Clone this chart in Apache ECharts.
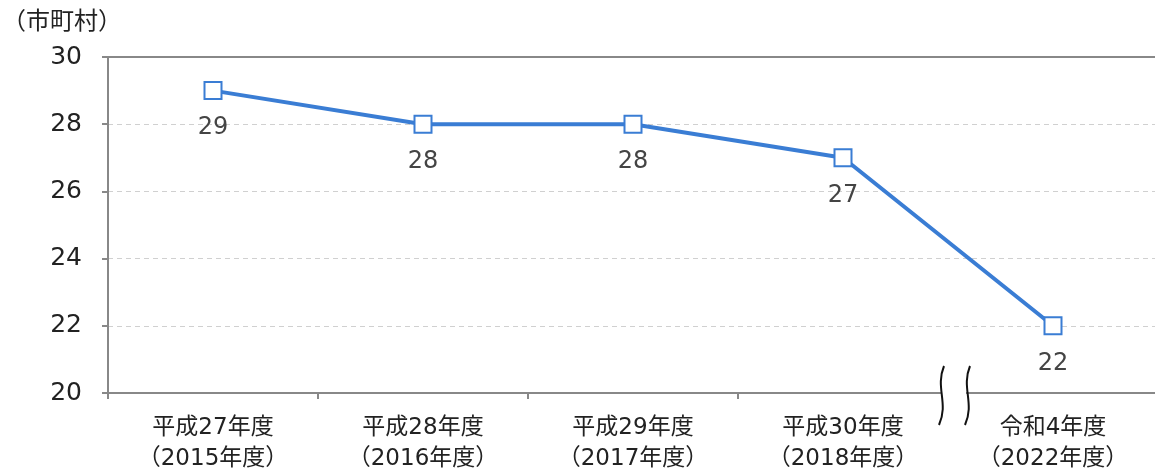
<!DOCTYPE html>
<html><head><meta charset="utf-8">
<script src="https://cdn.jsdelivr.net/npm/echarts@6/dist/echarts.min.js"></script>
<style>html,body{margin:0;padding:0;background:#fff}#c{width:1155px;height:470px}</style>
</head><body><div id="c"></div>
<script>
const categories = ['平成27年度\n（2015年度）','平成28年度\n（2016年度）','平成29年度\n（2017年度）','平成30年度\n（2018年度）','令和4年度\n（2022年度）'];
const values = [29, 28, 28, 27, 22];
const yTicks = [20, 22, 24, 26, 28, 30];
const unitLabel = '（市町村）';

const FONT = '"DejaVu Sans", "Noto Sans CJK JP", sans-serif';
const chart = echarts.init(document.getElementById('c'));
chart.setOption({
  animation: false,
  textStyle: { fontFamily: FONT },
  grid: { left: 108, top: 57, width: 1050, height: 336, outerBoundsMode: 'none', containLabel: false },
  xAxis: [{
    type: 'category', data: categories, position: 'bottom',
    axisLine: { lineStyle: { color: '#888', width: 2 } },
    axisTick: { show: true, length: 6, lineStyle: { color: '#888', width: 2 } },
    axisLabel: { color: '#222', fontSize: 23, lineHeight: 31, margin: 20, fontFamily: FONT }
  }, {
    type: 'category', data: categories, position: 'top',
    axisLine: { show: true, lineStyle: { color: '#888', width: 2 } },
    axisTick: { show: false }, axisLabel: { show: false }
  }],
  yAxis: {
    type: 'value', min: yTicks[0], max: yTicks[yTicks.length - 1], interval: 2,
    axisLine: { show: true, lineStyle: { color: '#888', width: 2 } },
    axisTick: { show: true, length: 6, lineStyle: { color: '#888', width: 2 } },
    axisLabel: { color: '#222', fontSize: 25, margin: 26, fontFamily: FONT },
    splitLine: { show: true, lineStyle: { color: '#d0d0d0', type: [5, 4], width: 1 } }
  },
  series: [{
    type: 'line', data: values,
    symbol: 'rect', symbolSize: 17,
    lineStyle: { color: '#3a7dd4', width: 4 },
    itemStyle: { color: '#fff', borderColor: '#3a7dd4', borderWidth: 2 },
    label: { show: true, position: 'bottom', distance: 16, color: '#444', fontSize: 24, fontFamily: FONT }
  }],
  graphic: [
    { type: 'text', left: 2, top: 11, style: { text: unitLabel, fontSize: 24, fill: '#222', fontFamily: FONT } },
    { type: 'rect', shape: { x: 942, y: 387, width: 24, height: 14 }, style: { fill: '#fff' }, z: 100 },
    { type: 'bezierCurve', shape: { x1: 944, y1: 366, cpx1: 935, cpy1: 388, cpx2: 949, cpy2: 403, x2: 939, y2: 425 }, style: { stroke: '#111', lineWidth: 2, fill: null }, z: 101 },
    { type: 'bezierCurve', shape: { x1: 970, y1: 366, cpx1: 961, cpy1: 388, cpx2: 975, cpy2: 403, x2: 965, y2: 425 }, style: { stroke: '#111', lineWidth: 2, fill: null }, z: 101 }
  ]
});
</script></body></html>
